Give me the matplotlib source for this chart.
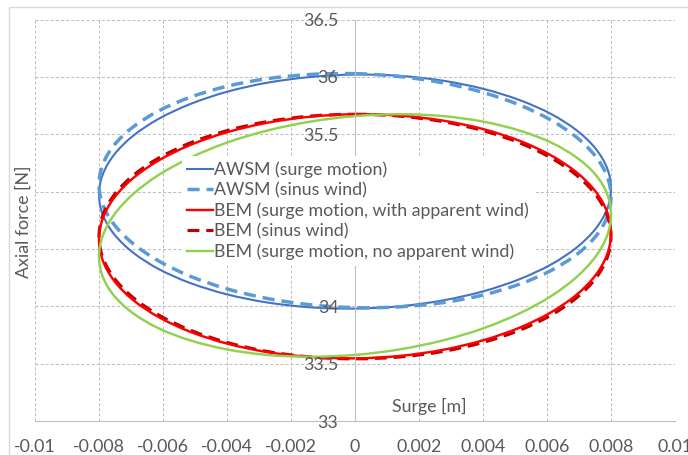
import matplotlib

matplotlib.use("Agg")

import matplotlib.pyplot as plt
import numpy as np
from matplotlib.lines import Line2D
from matplotlib.patches import PathPatch, Rectangle
from matplotlib.path import Path

plt.rcParams["font.family"] = ["Lato", "DejaVu Sans"]
plt.rcParams["axes.unicode_minus"] = False

# surge position over one period (same time instants for every run)
surge = [0, 0.00139, 0.00274, 0.004, 0.00514, 0.00613, 0.00693, 0.00752, 0.00788, 0.008,
         0.00788, 0.00752, 0.00693, 0.00613, 0.00514, 0.004, 0.00274, 0.00139, 0,
         -0.00139, -0.00274, -0.004, -0.00514, -0.00613, -0.00693, -0.00752, -0.00788, -0.008,
         -0.00788, -0.00752, -0.00693, -0.00613, -0.00514, -0.004, -0.00274, -0.00139, 0]

awsm_surge = [36.020, 36.009, 35.967, 35.896, 35.798, 35.676, 35.533, 35.374, 35.203, 35.027,
              34.849, 34.676, 34.513, 34.365, 34.236, 34.130, 34.051, 34.000, 33.980,
              33.991, 34.033, 34.104, 34.202, 34.324, 34.467, 34.626, 34.797, 34.973,
              35.151, 35.324, 35.487, 35.635, 35.764, 35.870, 35.949, 35.999, 36.020]

awsm_sinus = [36.028, 36.003, 35.948, 35.864, 35.755, 35.622, 35.472, 35.306, 35.132, 34.955,
              34.778, 34.609, 34.452, 34.312, 34.193, 34.098, 34.032, 33.995, 33.988,
              34.013, 34.068, 34.152, 34.261, 34.394, 34.545, 34.710, 34.884, 35.061,
              35.238, 35.407, 35.564, 35.704, 35.823, 35.918, 35.984, 36.021, 36.028]

bem_surge_app = [35.674, 35.662, 35.619, 35.545, 35.443, 35.315, 35.166, 35.000, 34.822, 34.638,
                 34.453, 34.272, 34.102, 33.948, 33.813, 33.703, 33.620, 33.567, 33.546,
                 33.558, 33.601, 33.675, 33.777, 33.905, 34.054, 34.220, 34.398, 34.582,
                 34.767, 34.948, 35.118, 35.272, 35.407, 35.517, 35.600, 35.653, 35.674]

bem_sinus = [35.674, 35.658, 35.610, 35.531, 35.425, 35.293, 35.141, 34.973, 34.793, 34.608,
             34.423, 34.243, 34.075, 33.923, 33.791, 33.685, 33.606, 33.558, 33.542,
             33.558, 33.606, 33.685, 33.791, 33.923, 34.075, 34.243, 34.423, 34.608,
             34.793, 34.973, 35.141, 35.293, 35.425, 35.531, 35.610, 35.658, 35.674]

bem_surge_noapp = [35.658, 35.674, 35.658, 35.610, 35.532, 35.427, 35.296, 35.146, 34.979, 34.801,
                   34.617, 34.434, 34.256, 34.089, 33.938, 33.807, 33.702, 33.624, 33.576,
                   33.560, 33.576, 33.624, 33.702, 33.807, 33.938, 34.089, 34.256, 34.434,
                   34.617, 34.801, 34.979, 35.146, 35.296, 35.427, 35.532, 35.610, 35.658]

x_ticks = [-0.01, -0.008, -0.006, -0.004, -0.002, 0, 0.002, 0.004, 0.006, 0.008, 0.01]
x_labels = ["-0.01", "-0.008", "-0.006", "-0.004", "-0.002", "0",
            "0.002", "0.004", "0.006", "0.008", "0.01"]
y_ticks = [33, 33.5, 34, 34.5, 35, 35.5, 36, 36.5]
y_labels = ["33", "33.5", "34", "34.5", "35", "35.5", "36", "36.5"]

text_color = "#595959"
grid_color = "#bfbfbf"
fs = 12.8


def smooth_loop(xs, ys):
    """Closed smoothed line through the points (Catmull-Rom as cubic Beziers)."""
    pts = np.column_stack([xs, ys])[:-1]
    n = len(pts)
    verts = [pts[0]]
    codes = [Path.MOVETO]
    for i in range(n):
        p0, p1, p2, p3 = pts[i - 1], pts[i], pts[(i + 1) % n], pts[(i + 2) % n]
        verts += [p1 + (p2 - p0) / 6, p2 - (p3 - p1) / 6, p2]
        codes += [Path.CURVE4] * 3
    return Path(verts, codes)


fig = plt.figure(figsize=(6.88, 4.55), dpi=100)
ax = fig.add_axes([35 / 688, 34 / 455, 640 / 688, 401.5 / 455])

fig.patches.append(Rectangle((9 / 688, -0.1), 1.2, 0.1 + 448 / 455, transform=fig.transFigure,
                             fill=False, edgecolor="#d9d9d9", linewidth=1.0))

for t in x_ticks:
    if t != 0:
        ax.axvline(t, color=grid_color, linewidth=0.75, linestyle=(0, (2.9, 2)), zorder=0)
for t in y_ticks:
    if t != 33:
        ax.axhline(t, color=grid_color, linewidth=0.75, linestyle=(0, (2.9, 2)), zorder=0)

series = [
    (awsm_surge, "AWSM (surge motion)", "#4472C4", 1.5, "-", 2.0),
    (awsm_sinus, "AWSM (sinus wind)", "#5B9BD5", 2.5, (0, (3.5, 2)), 2.1),
    (bem_surge_app, "BEM (surge motion, with apparent wind)", "#FF0000", 1.75, "-", 2.3),
    (bem_sinus, "BEM (sinus wind)", "#C00000", 2.25, (0, (3.8, 2.2)), 2.2),
    (bem_surge_noapp, "BEM (surge motion, no apparent wind)", "#92D050", 1.75, "-", 2.4),
]

handles = []
for values, label, color, lw, ls, z in series:
    ax.add_patch(PathPatch(smooth_loop(surge, values), fill=False, edgecolor=color,
                           linewidth=lw, linestyle=ls, zorder=z))
    handles.append(Line2D([], [], color=color, linewidth=lw, linestyle=ls, label=label))

ax.set_xlim(-0.01, 0.01)
ax.set_ylim(33, 36.5)
ax.set_xticks(x_ticks)
ax.set_xticklabels(x_labels)
ax.set_yticks(y_ticks)
ax.set_yticklabels(y_labels)
ax.tick_params(axis="both", length=0, labelsize=fs, labelcolor=text_color)
ax.tick_params(axis="x", pad=13)
ax.tick_params(axis="y", pad=12)

ax.spines["top"].set_visible(False)
ax.spines["right"].set_visible(False)
ax.spines["left"].set_position(("data", 0))
ax.spines["left"].set_color(grid_color)
ax.spines["bottom"].set_color(grid_color)
ax.set_axisbelow(False)

ax.text(0.616, 0.036, "Surge [m]", transform=ax.transAxes, ha="center", va="center",
        fontsize=fs, color=text_color)
fig.text(23.5 / 688, 1 - 222 / 455, "Axial force [N]", rotation=90, ha="center", va="center",
         fontsize=fs, color=text_color)

# the legend sits over the axis labels it covers
leg = ax.legend(handles=handles, loc="upper left", bbox_to_anchor=(0.2292, 0.660),
                borderaxespad=0, frameon=True, fancybox=False, framealpha=1,
                edgecolor="none", fontsize=fs, handlelength=1.46, handletextpad=0.05,
                labelspacing=0.24, borderpad=0.3)
leg.set_zorder(10)
for txt in leg.get_texts():
    txt.set_color(text_color)

fig.savefig("out.png", dpi=100)
